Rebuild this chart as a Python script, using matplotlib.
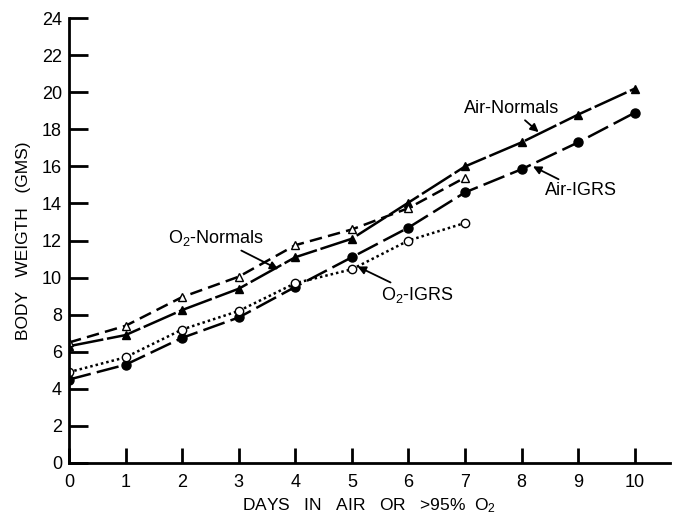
import matplotlib
matplotlib.use("Agg")
import matplotlib.pyplot as plt

plt.rcParams['font.family'] = ['Liberation Sans', 'DejaVu Sans']
plt.rcParams['mathtext.default'] = 'regular'

days_air = [0, 1, 2, 3, 4, 5, 6, 7, 8, 9, 10]
days_o2 = [0, 1, 2, 3, 4, 5, 6, 7]
air_normals = [6.3, 6.9, 8.25, 9.4, 11.1, 12.1, 14.05, 16.0, 17.3, 18.8, 20.2]
air_igrs = [4.5, 5.3, 6.75, 7.85, 9.5, 11.1, 12.7, 14.6, 15.85, 17.3, 18.9]
o2_normals = [6.5, 7.4, 8.95, 10.05, 11.75, 12.6, 13.75, 15.4]
o2_igrs = [4.9, 5.7, 7.2, 8.2, 9.7, 10.45, 12.0, 12.95]
x_ticks = [0, 1, 2, 3, 4, 5, 6, 7, 8, 9, 10]
y_ticks = [0, 2, 4, 6, 8, 10, 12, 14, 16, 18, 20, 22, 24]

fig = plt.figure(figsize=(6.76, 5.19), dpi=100)
ax = fig.add_axes([0.102, 0.108, 0.889, 0.857])

lw = 1.8
ax.plot(days_air, air_normals, color='black', lw=lw, linestyle=(0, (14, 1.5)),
        marker='^', markersize=6, markerfacecolor='black')
ax.plot(days_air, air_igrs, color='black', lw=lw, linestyle=(0, (9, 2.5)),
        marker='o', markersize=6.5, markerfacecolor='black')
ax.plot(days_o2, o2_normals, color='black', lw=lw, linestyle=(0, (5, 2.5)),
        marker='^', markersize=6, markerfacecolor='white', markeredgewidth=1.0)
ax.plot(days_o2, o2_igrs, color='black', lw=lw, linestyle=(0, (1, 1.2)),
        marker='o', markersize=6, markerfacecolor='white', markeredgewidth=1.0)

ax.set_xlim(0, 10.62)
ax.set_ylim(0, 24)
ax.set_xticks(x_ticks)
ax.set_yticks(y_ticks)
ax.spines['top'].set_visible(False)
ax.spines['right'].set_visible(False)
ax.spines['left'].set_linewidth(2)
ax.spines['bottom'].set_linewidth(2)
ax.tick_params(axis='y', direction='in', length=14, width=2, pad=5, labelsize=13)
ax.tick_params(axis='x', direction='in', length=11, width=2, pad=8, labelsize=13)

ax.set_ylabel('BODY   WEIGTH   (GMS)', fontsize=12.5, labelpad=8)
ax.set_xlabel('DAYS   IN   AIR   OR   >95%  O$_2$', fontsize=12.5, labelpad=4)

ap = dict(arrowstyle='-|>', lw=1.3, color='black', mutation_scale=12, shrinkA=0, shrinkB=0)
ax.annotate('O$_2$-Normals', xy=(3.7, 10.45), xytext=(2.6, 12.15),
            fontsize=13, ha='center', va='center', arrowprops=ap)
ax.annotate('Air-Normals', xy=(8.3, 17.85), xytext=(7.83, 19.1),
            fontsize=13, ha='center', va='center', arrowprops=ap)
ax.annotate('Air-IGRS', xy=(8.2, 16.0), xytext=(9.05, 14.7),
            fontsize=13, ha='center', va='center', arrowprops=ap)
ax.annotate('O$_2$-IGRS', xy=(5.1, 10.6), xytext=(6.15, 9.05),
            fontsize=13, ha='center', va='center', arrowprops=ap)

fig.savefig('out.png', dpi=100)
